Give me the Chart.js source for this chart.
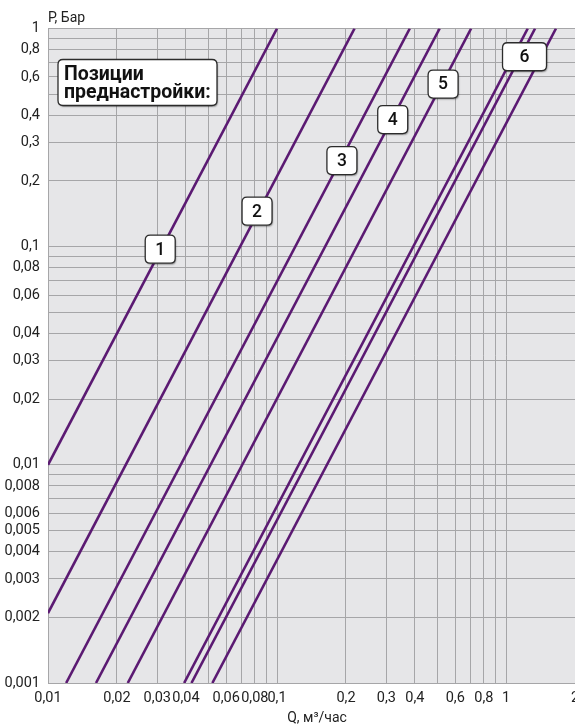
<!DOCTYPE html>
<html>
<head>
<meta charset="utf-8">
<script src="https://cdn.jsdelivr.net/npm/chart.js@4.4.1/dist/chart.umd.min.js"></script>
<style>
  html, body { margin: 0; padding: 0; background: #fff; }
  canvas { display: block; }
</style>
</head>
<body>
<canvas id="chart" width="575" height="728"></canvas>
<script>
// ------------------------------------------------------
// Данные: концы прямых (Q, P)
// ------------------------------------------------------
const qStart = [0.01, 0.01, 0.012, 0.0162, 0.0223, 0.0393, 0.0423, 0.0522];
const pStart = [0.01, 0.00209, 0.001, 0.001, 0.001, 0.001, 0.001, 0.001];
const qEnd = [0.1, 0.218, 0.38, 0.513, 0.704, 1.244, 1.339, 1.652];
const pEnd = [1, 1, 1, 1, 1, 1, 1, 1];

// подписи позиций
const labelText = ["1", "2", "3", "4", "5", "6"];
const labelQ = [0.0309, 0.0818, 0.192, 0.32, 0.531, 1.204];
const labelP = [0.0974, 0.1455, 0.248, 0.3825, 0.556, 0.742];

// метки осей
const xTickLabels = [0.01, 0.02, 0.03, 0.04, 0.06, 0.08, 0.1, 0.2, 0.3, 0.4, 0.6, 0.8, 1, 2];
const yTickLabels = [1, 0.8, 0.6, 0.4, 0.3, 0.2, 0.1, 0.08, 0.06, 0.04, 0.03, 0.02,
  0.01, 0.008, 0.006, 0.005, 0.004, 0.003, 0.002, 0.001];

const LINE_COLOR = "#5b1a72";
const GRID_COLOR = "#a6a6a8";
const FONT = "Roboto, 'Liberation Sans', sans-serif";

/* =======================================================
   Helpers
======================================================= */
function gridValues(min, max) {
  const vals = [];
  for (let e = -3; e <= 0; e++) {
    for (let m = 1; m <= 9; m++) {
      const v = +(m * Math.pow(10, e)).toPrecision(3);
      if (v >= min - 1e-12 && v <= max + 1e-12) vals.push(v);
    }
  }
  return vals;
}

function fmt(v) {
  return String(+v.toPrecision(3)).replace(".", ",");
}

function hasLabel(list, v) {
  return list.some((t) => Math.abs(t - v) / t < 1e-6);
}

function roundRect(ctx, x, y, w, h, r) {
  ctx.beginPath();
  ctx.moveTo(x + r, y);
  ctx.lineTo(x + w - r, y);
  ctx.quadraticCurveTo(x + w, y, x + w, y + r);
  ctx.lineTo(x + w, y + h - r);
  ctx.quadraticCurveTo(x + w, y + h, x + w - r, y + h);
  ctx.lineTo(x + r, y + h);
  ctx.quadraticCurveTo(x, y + h, x, y + h - r);
  ctx.lineTo(x, y + r);
  ctx.quadraticCurveTo(x, y, x + r, y);
  ctx.closePath();
}

function drawBox(ctx, x, y, w, h) {
  ctx.save();
  ctx.shadowColor = "rgba(0,0,0,0.35)";
  ctx.shadowOffsetX = 1;
  ctx.shadowOffsetY = 1.5;
  ctx.shadowBlur = 1.5;
  roundRect(ctx, x, y, w, h, 5);
  ctx.fillStyle = "#fff";
  ctx.fill();
  ctx.restore();
  roundRect(ctx, x, y, w, h, 5);
  ctx.lineWidth = 1.3;
  ctx.strokeStyle = "#2b2b2b";
  ctx.stroke();
}

/* =======================================================
   Плагин: фон, подписи, заголовки осей
======================================================= */
const decor = {
  id: "decor",
  beforeDraw(chart) {
    const { ctx, chartArea: a } = chart;
    ctx.save();
    ctx.fillStyle = "#e6e6e8";
    ctx.fillRect(a.left, a.top, a.right - a.left, a.bottom - a.top);
    ctx.restore();
  },
  afterDraw(chart) {
    const { ctx, chartArea: a } = chart;
    const xs = chart.scales.x;
    const ys = chart.scales.y;
    ctx.save();

    // номера позиций
    ctx.font = `500 17.5px ${FONT}`;
    ctx.textAlign = "center";
    ctx.textBaseline = "middle";
    labelText.forEach((t, i) => {
      const cx = xs.getPixelForValue(labelQ[i]);
      const cy = ys.getPixelForValue(labelP[i]);
      const w = t === "6" ? 44 : 30;
      const h = 28;
      drawBox(ctx, cx - w / 2, cy - h / 2, w, h);
      ctx.fillStyle = "#111";
      ctx.fillText(t, cx, cy + 1);
    });

    // заголовок-легенда
    const bx = a.left + 10;
    const by = a.top + 31;
    drawBox(ctx, bx, by, 159, 46);
    ctx.fillStyle = "#111";
    ctx.font = `bold 19.5px ${FONT}`;
    ctx.textAlign = "left";
    ctx.textBaseline = "alphabetic";
    ctx.fillText("Позиции", bx + 6, by + 20, 150);
    ctx.fillText("преднастройки:", bx + 6, by + 38, 150);

    // заголовки осей
    ctx.font = `14px ${FONT}`;
    ctx.fillStyle = "#222";
    ctx.fillText("P, Бар", a.left, 22);
    ctx.textAlign = "center";
    ctx.fillText("Q, м³/час", 317, 722);
    ctx.restore();
  },
};

/* =======================================================
   Наборы данных
======================================================= */
const datasets = qStart.map((q, i) => ({
  data: [
    { x: q, y: pStart[i] },
    { x: qEnd[i], y: pEnd[i] },
  ],
  borderColor: LINE_COLOR,
  borderWidth: 2.6,
  pointRadius: 0,
  fill: false,
  clip: 0,
}));

new Chart(document.getElementById("chart"), {
  type: "line",
  data: { datasets },
  options: {
    responsive: false,
    animation: false,
    devicePixelRatio: 1,
    layout: { padding: { top: 28.5, left: 0, right: 0, bottom: 0 } },
    plugins: { legend: { display: false }, tooltip: { enabled: false } },
    scales: {
      x: {
        type: "logarithmic",
        min: 0.01,
        max: 2,
        afterBuildTicks: (s) => {
          s.ticks = gridValues(0.01, 2).map((v) => ({ value: v }));
        },
        afterFit: (s) => {
          s.height = 45;
          s.paddingLeft = 0;
          s.paddingRight = 0;
        },
        grid: { color: GRID_COLOR, lineWidth: 1, drawTicks: false },
        border: { color: GRID_COLOR },
        ticks: {
          autoSkip: false,
          maxRotation: 0,
          padding: 7,
          color: "#222",
          font: { family: FONT, size: 14.5 },
          callback: (v) => (hasLabel(xTickLabels, v) ? fmt(v) : ""),
        },
      },
      y: {
        type: "logarithmic",
        min: 0.001,
        max: 1,
        afterBuildTicks: (s) => {
          s.ticks = gridValues(0.001, 1).map((v) => ({ value: v }));
        },
        afterFit: (s) => {
          s.width = 48;
          s.paddingTop = 0;
          s.paddingBottom = 0;
        },
        grid: { color: GRID_COLOR, lineWidth: 1, drawTicks: false },
        border: { color: GRID_COLOR },
        ticks: {
          autoSkip: false,
          padding: 8,
          color: "#222",
          font: { family: FONT, size: 14.5 },
          callback: (v) => (hasLabel(yTickLabels, v) ? fmt(v) : ""),
        },
      },
    },
  },
  plugins: [decor],
});
</script>
</body>
</html>
